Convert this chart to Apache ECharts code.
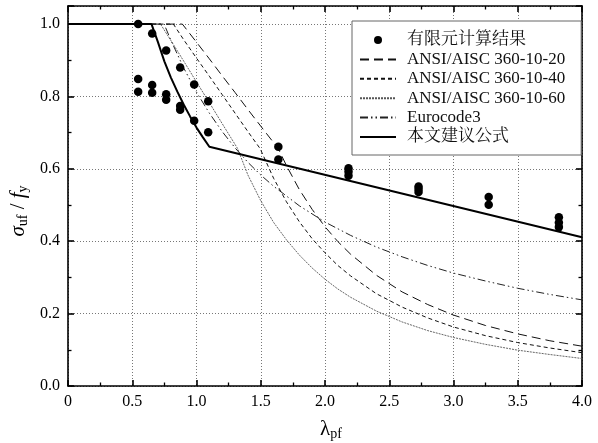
<!DOCTYPE html>
<html><head><meta charset="utf-8">
<script src="https://cdn.jsdelivr.net/npm/echarts@6/dist/echarts.min.js"></script>
<style>html,body{margin:0;padding:0;background:#fff}#c{width:598px;height:443px}</style>
</head><body><div id="c"></div>
<script>
// Finite element results
const feLambda = [0.546,0.546,0.546,0.655,0.655,0.655,0.764,0.764,0.764,0.873,0.873,0.873,0.982,0.982,1.091,1.091,1.637,1.637,2.183,2.183,2.183,2.728,2.728,2.728,3.274,3.274,3.82,3.82,3.82];
const feSigma  = [1.000,0.848,0.813,0.974,0.832,0.810,0.927,0.806,0.791,0.880,0.774,0.763,0.833,0.733,0.787,0.701,0.661,0.626,0.602,0.592,0.581,0.551,0.544,0.536,0.522,0.501,0.466,0.452,0.439];
// ANSI/AISC 360-10-20
const aisc20Lambda = [0,0.89,1.0,1.1,1.2,1.3,1.4,1.5,1.636,1.7,1.8,1.9,2.0,2.1,2.2,2.4,2.6,2.8,3.0,3.25,3.5,3.75,4.0];
const aisc20Sigma  = [1.0,1.0,0.950,0.904,0.857,0.811,0.764,0.718,0.656,0.609,0.543,0.488,0.440,0.399,0.364,0.306,0.260,0.225,0.196,0.167,0.144,0.125,0.110];
// ANSI/AISC 360-10-40
const aisc40Lambda = [0,0.82,0.9,1.0,1.1,1.2,1.3,1.4,1.495,1.6,1.7,1.8,1.9,2.0,2.1,2.2,2.4,2.6,2.8,3.0,3.25,3.5,3.75,4.0];
const aisc40Sigma  = [1.0,1.0,0.957,0.906,0.856,0.805,0.754,0.703,0.656,0.574,0.509,0.454,0.407,0.368,0.333,0.304,0.255,0.218,0.188,0.163,0.139,0.120,0.105,0.092];
// ANSI/AISC 360-10-60
const aisc60Lambda = [0,0.72,0.8,0.9,1.0,1.1,1.2,1.32,1.4,1.5,1.6,1.7,1.8,1.9,2.0,2.1,2.2,2.4,2.6,2.8,3.0,3.25,3.5,3.75,4.0];
const aisc60Sigma  = [1.0,1.0,0.955,0.898,0.840,0.783,0.725,0.656,0.583,0.512,0.452,0.404,0.362,0.326,0.295,0.268,0.245,0.207,0.177,0.153,0.134,0.115,0.099,0.087,0.076];
// Eurocode3
const ec3Lambda = [0,0.748,0.8,0.9,1.0,1.1,1.2,1.3,1.4,1.5,1.6,1.8,2.0,2.2,2.4,2.6,2.8,3.0,3.25,3.5,3.75,4.0];
const ec3Sigma  = [1.0,1.0,0.956,0.879,0.812,0.754,0.703,0.658,0.618,0.583,0.552,0.498,0.453,0.416,0.384,0.357,0.333,0.312,0.290,0.270,0.253,0.238];
// 本文建议公式
const propLambda = [0,0.65,0.7,0.75,0.8,0.85,0.9,0.95,1.0,1.05,1.1,4.0];
const propSigma  = [1.0,1.0,0.950,0.897,0.853,0.814,0.778,0.745,0.714,0.687,0.661,0.411];

const seriesNames = ['有限元计算结果','ANSI/AISC 360-10-20','ANSI/AISC 360-10-40','ANSI/AISC 360-10-60','Eurocode3','本文建议公式'];
const xTicks = [0,0.5,1.0,1.5,2.0,2.5,3.0,3.5,4.0];

const zip = (a,b) => a.map((v,i)=>[v,b[i]]);
const SERIF = "'Liberation Serif', 'Noto Serif CJK SC', 'Noto Sans CJK SC', serif";

const chart = echarts.init(document.getElementById('c'), null, {renderer:'canvas'});
const axisCommon = {
  axisLine:{show:true, onZero:false, lineStyle:{color:'#000', width:1.6}},
  axisTick:{show:true, inside:true, length:6, lineStyle:{color:'#000', width:1.6}},
  minorTick:{show:true, splitNumber:2, length:3.5, lineStyle:{color:'#000', width:1.3}},
};
const isMajor = (v, step) => Math.abs(v/step - Math.round(v/step)) < 1e-6;
const hideSym = {opacity:0};

chart.setOption({
  animation:false,
  backgroundColor:'#fff',
  grid:{left:68, right:16, top:6, bottom:57, containLabel:false},
  legend:{
    orient:'vertical', left:352, top:21,
    padding:[10,16,9,7], itemGap:1.4, itemWidth:36, itemHeight:8,
    backgroundColor:'#fff', borderColor:'#666', borderWidth:1, borderRadius:0,
    data:[
      {name:seriesNames[0], itemStyle:{color:'#000', opacity:1}},
      {name:seriesNames[1], itemStyle:hideSym},
      {name:seriesNames[2], itemStyle:hideSym},
      {name:seriesNames[3], itemStyle:hideSym},
      {name:seriesNames[4], itemStyle:hideSym},
      {name:seriesNames[5], itemStyle:hideSym}
    ],
    textStyle:{fontFamily:SERIF, fontSize:17, color:'#111', lineHeight:18, padding:[0,0,0,6]}
  },
  graphic:[
    {type:'text', x:18, y:211, rotation:Math.PI/2, z:10,
      style:{text:'{i|σ}{s|uf}{n| / }{i|f}{s|y}', align:'center', verticalAlign:'middle',
        rich:{
          i:{fontFamily:SERIF, fontSize:21, fontStyle:'italic', fill:'#000', lineHeight:24, verticalAlign:'middle'},
          n:{fontFamily:SERIF, fontSize:21, fill:'#000', lineHeight:24, verticalAlign:'middle'},
          s:{fontFamily:SERIF, fontSize:14, fill:'#000', lineHeight:14, verticalAlign:'bottom', padding:[10,0,0,0]}
        }}},
    {type:'text', x:331, y:429, z:10,
      style:{text:'{l|λ}{s|pf}', align:'center', verticalAlign:'middle',
        rich:{
          l:{fontFamily:SERIF, fontSize:21, fill:'#000', lineHeight:24, verticalAlign:'middle'},
          s:{fontFamily:SERIF, fontSize:14, fill:'#000', lineHeight:14, verticalAlign:'bottom', padding:[10,0,0,0]}
        }}}
  ],
  xAxis:[
    Object.assign({type:'value', min:0, max:4, interval:0.5, position:'bottom',
      axisLabel:{fontFamily:SERIF, fontSize:16, color:'#000', margin:8,
        customValues:xTicks,
        formatter:(v)=> v===0 ? '0' : v.toFixed(1)},
      splitLine:{show:true, lineStyle:{color:'#777', width:1, type:[1,2]}}
    }, axisCommon),
    Object.assign({type:'value', min:0, max:4, interval:0.5, position:'top',
      axisLabel:{show:false}, splitLine:{show:false}}, axisCommon)
  ],
  yAxis:[
    Object.assign({type:'value', min:0, max:1.05, interval:0.2, position:'left',
      axisLabel:{fontFamily:SERIF, fontSize:16, color:'#000', margin:8, showMaxLabel:false,
        formatter:(v)=> isMajor(v,0.2) ? v.toFixed(1) : ''},
      splitLine:{show:true, lineStyle:{color:'#777', width:1, type:[1,2]}}
    }, axisCommon),
    Object.assign({type:'value', min:0, max:1.05, interval:0.2, position:'right',
      axisLabel:{show:false}, splitLine:{show:false}}, axisCommon)
  ],
  series:[
    {name:seriesNames[0], type:'scatter', data:zip(feLambda, feSigma), symbol:'circle', symbolSize:8.5,
      itemStyle:{color:'#000', opacity:1}, z:5},
    {name:seriesNames[1], type:'line', data:zip(aisc20Lambda, aisc20Sigma), symbol:'none', smooth:false,
      lineStyle:{color:'#111', width:1, type:[9,5]}, itemStyle:{color:'#111'}},
    {name:seriesNames[2], type:'line', data:zip(aisc40Lambda, aisc40Sigma), symbol:'none',
      lineStyle:{color:'#111', width:1, type:[4,3]}, itemStyle:{color:'#111'}},
    {name:seriesNames[3], type:'line', data:zip(aisc60Lambda, aisc60Sigma), symbol:'none',
      lineStyle:{color:'#555', width:0.9, type:[2,1]}, itemStyle:{color:'#555'}},
    {name:seriesNames[4], type:'line', data:zip(ec3Lambda, ec3Sigma), symbol:'none',
      lineStyle:{color:'#222', width:1, type:[8,3,1.5,3,1.5,3]}, itemStyle:{color:'#222'}},
    {name:seriesNames[5], type:'line', data:zip(propLambda, propSigma), symbol:'none',
      lineStyle:{color:'#000', width:2}, itemStyle:{color:'#000'}, z:4}
  ]
});
</script></body></html>
